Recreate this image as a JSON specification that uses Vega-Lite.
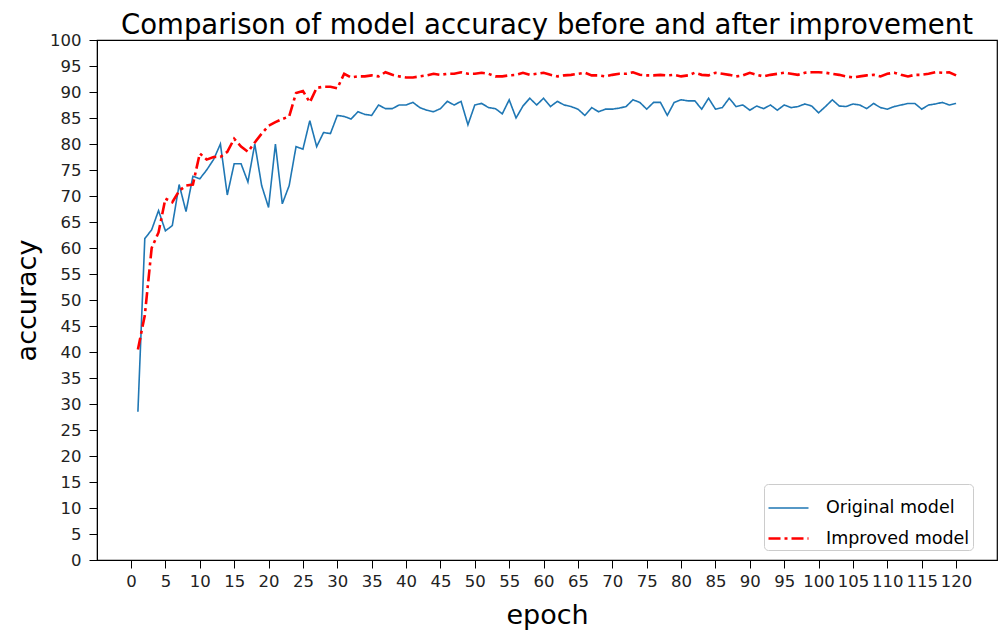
{
  "$schema": "https://vega.github.io/schema/vega-lite/v6.json",
  "width": 900,
  "height": 520,
  "autosize": {"type": "none"},
  "padding": {"left": 97, "top": 40, "right": 6, "bottom": 70},
  "background": "white",
  "title": {"text": "Comparison of model accuracy before and after improvement", "font": "DejaVu Sans", "fontSize": 27.5, "fontWeight": "normal", "color": "#000000", "anchor": "middle", "offset": -7},
  "config": {
    "view": {"stroke": "#000000", "strokeWidth": 1.2},
    "axis": {"grid": false, "domainColor": "#000000", "tickColor": "#000000", "labelColor": "#222222", "titleColor": "#000000", "labelFont": "DejaVu Sans", "titleFont": "DejaVu Sans", "titleFontWeight": "normal", "labelFontSize": 16.5, "titleFontSize": 27, "tickSize": 8}
  },
  "data": {"values": [
{"epoch":1,"o":28.5,"i":40.5},{"epoch":2,"o":61.8,"i":47},{"epoch":3,"o":63.5,"i":60},{"epoch":4,"o":67.2,"i":63},{"epoch":5,"o":63.3,"i":69.5},
{"epoch":6,"o":64.3,"i":68.8},{"epoch":7,"o":72.2,"i":71},{"epoch":8,"o":67,"i":72},{"epoch":9,"o":73.8,"i":72.2},{"epoch":10,"o":73.3,"i":78.2},
{"epoch":11,"o":75,"i":77},{"epoch":12,"o":77,"i":77.5},{"epoch":13,"o":80,"i":77.5},{"epoch":14,"o":70.2,"i":78.5},{"epoch":15,"o":76.2,"i":81},
{"epoch":16,"o":76.2,"i":79.5},{"epoch":17,"o":72.7,"i":78.5},{"epoch":18,"o":80,"i":80.3},{"epoch":19,"o":72,"i":82},{"epoch":20,"o":67.8,"i":83.5},
{"epoch":21,"o":80,"i":84.2},{"epoch":22,"o":68.5,"i":84.8},{"epoch":23,"o":72,"i":85.3},{"epoch":24,"o":79.5,"i":89.8},{"epoch":25,"o":79,"i":90.2},
{"epoch":26,"o":84.5,"i":88},{"epoch":27,"o":79.5,"i":90.8},{"epoch":28,"o":82.2,"i":91},{"epoch":29,"o":82,"i":91},{"epoch":30,"o":85.5,"i":90.7},
{"epoch":31,"o":85.3,"i":93.5},{"epoch":32,"o":84.8,"i":92.8},{"epoch":33,"o":86.2,"i":93},{"epoch":34,"o":85.7,"i":93},{"epoch":35,"o":85.5,"i":93.2},
{"epoch":36,"o":87.5,"i":93},{"epoch":37,"o":86.8,"i":93.8},{"epoch":38,"o":86.8,"i":93.3},{"epoch":39,"o":87.5,"i":93},{"epoch":40,"o":87.5,"i":92.8},
{"epoch":41,"o":88,"i":92.8},{"epoch":42,"o":87,"i":93},{"epoch":43,"o":86.5,"i":93.2},{"epoch":44,"o":86.2,"i":93.5},{"epoch":45,"o":86.8,"i":93.3},
{"epoch":46,"o":88.2,"i":93.5},{"epoch":47,"o":87.5,"i":93.5},{"epoch":48,"o":88.2,"i":93.8},{"epoch":49,"o":83.7,"i":93.5},{"epoch":50,"o":87.5,"i":93.5},
{"epoch":51,"o":87.8,"i":93.7},{"epoch":52,"o":87,"i":93.5},{"epoch":53,"o":86.8,"i":93},{"epoch":54,"o":85.8,"i":93},{"epoch":55,"o":88.5,"i":93.2},
{"epoch":56,"o":85,"i":93.3},{"epoch":57,"o":87.3,"i":93.7},{"epoch":58,"o":88.8,"i":93.3},{"epoch":59,"o":87.5,"i":93.5},{"epoch":60,"o":88.8,"i":93.7},
{"epoch":61,"o":87.2,"i":93.3},{"epoch":62,"o":88.2,"i":93},{"epoch":63,"o":87.5,"i":93.2},{"epoch":64,"o":87.2,"i":93.3},{"epoch":65,"o":86.7,"i":93.5},
{"epoch":66,"o":85.5,"i":93.7},{"epoch":67,"o":87,"i":93.2},{"epoch":68,"o":86.2,"i":93.2},{"epoch":69,"o":86.7,"i":93},{"epoch":70,"o":86.7,"i":93.3},
{"epoch":71,"o":86.9,"i":93.5},{"epoch":72,"o":87.2,"i":93.5},{"epoch":73,"o":88.5,"i":93.8},{"epoch":74,"o":88,"i":93.3},{"epoch":75,"o":86.7,"i":93.2},
{"epoch":76,"o":88,"i":93.2},{"epoch":77,"o":88,"i":93.3},{"epoch":78,"o":85.5,"i":93.2},{"epoch":79,"o":88,"i":93.3},{"epoch":80,"o":88.5,"i":93},
{"epoch":81,"o":88.3,"i":93.2},{"epoch":82,"o":88.3,"i":93.7},{"epoch":83,"o":86.7,"i":93.3},{"epoch":84,"o":88.8,"i":93.2},{"epoch":85,"o":86.7,"i":93.7},
{"epoch":86,"o":87,"i":93.5},{"epoch":87,"o":88.8,"i":93.3},{"epoch":88,"o":87.2,"i":93},{"epoch":89,"o":87.5,"i":93.2},{"epoch":90,"o":86.5,"i":93.7},
{"epoch":91,"o":87.3,"i":93.3},{"epoch":92,"o":86.8,"i":93},{"epoch":93,"o":87.5,"i":93.3},{"epoch":94,"o":86.5,"i":93.5},{"epoch":95,"o":87.5,"i":93.7},
{"epoch":96,"o":87,"i":93.5},{"epoch":97,"o":87.2,"i":93.3},{"epoch":98,"o":87.7,"i":93.7},{"epoch":99,"o":87.3,"i":93.8},{"epoch":100,"o":86,"i":93.8},
{"epoch":101,"o":87.2,"i":93.7},{"epoch":102,"o":88.5,"i":93.5},{"epoch":103,"o":87.3,"i":93.3},{"epoch":104,"o":87.2,"i":93},{"epoch":105,"o":87.7,"i":92.8},
{"epoch":106,"o":87.5,"i":93},{"epoch":107,"o":86.8,"i":93.2},{"epoch":108,"o":87.8,"i":93.3},{"epoch":109,"o":87,"i":93},{"epoch":110,"o":86.7,"i":93.5},
{"epoch":111,"o":87.2,"i":93.7},{"epoch":112,"o":87.5,"i":93.3},{"epoch":113,"o":87.8,"i":93},{"epoch":114,"o":87.8,"i":93.3},{"epoch":115,"o":86.7,"i":93.3},
{"epoch":116,"o":87.5,"i":93.5},{"epoch":117,"o":87.7,"i":93.8},{"epoch":118,"o":88,"i":93.7},{"epoch":119,"o":87.5,"i":93.8},{"epoch":120,"o":87.8,"i":93.2}
  ]},
  "transform": [
    {"fold": ["o", "i"], "as": ["key", "accuracy"]},
    {"lookup": "key", "from": {"data": {"values": [{"key": "o", "model": "Original model"}, {"key": "i", "model": " Improved model"}]}, "key": "key", "fields": ["model"]}}
  ],
  "mark": {"type": "line", "clip": true},
  "encoding": {
    "x": {"field": "epoch", "type": "quantitative", "scale": {"domain": [-4.95, 125.95], "nice": false, "zero": false},
          "axis": {"values": [0,5,10,15,20,25,30,35,40,45,50,55,60,65,70,75,80,85,90,95,100,105,110,115,120], "labelOverlap": false, "labelPadding": 5, "title": "epoch", "titlePadding": 13}},
    "y": {"field": "accuracy", "type": "quantitative", "scale": {"domain": [0, 100], "nice": false},
          "axis": {"values": [0,5,10,15,20,25,30,35,40,45,50,55,60,65,70,75,80,85,90,95,100], "labelPadding": 8, "title": "accuracy", "titlePadding": 8}},
    "color": {"field": "model", "type": "nominal", "sort": ["Original model", " Improved model"],
              "scale": {"domain": ["Original model", " Improved model"], "range": ["#1f77b4", "#ff0000"]},
              "legend": {"title": null, "orient": "none", "legendX": 667, "legendY": 444, "fillColor": "white", "strokeColor": "#cccccc", "cornerRadius": 4, "padding": 3, "labelFont": "DejaVu Sans", "labelFontSize": 17.5, "labelColor": "#000000", "symbolType": "stroke", "symbolSize": 1600, "symbolStrokeWidth": 2, "rowPadding": -11, "labelOffset": 16, "labelLimit": 300}},
    "strokeDash": {"field": "model", "type": "nominal", "sort": ["Original model", " Improved model"],
                   "scale": {"domain": ["Original model", " Improved model"], "range": [[1, 0], [12, 4, 3, 4]]}, "legend": null},
    "strokeWidth": {"field": "model", "type": "nominal",
                    "scale": {"domain": ["Original model", " Improved model"], "range": [1.6, 2.6]}, "legend": null}
  }
}
